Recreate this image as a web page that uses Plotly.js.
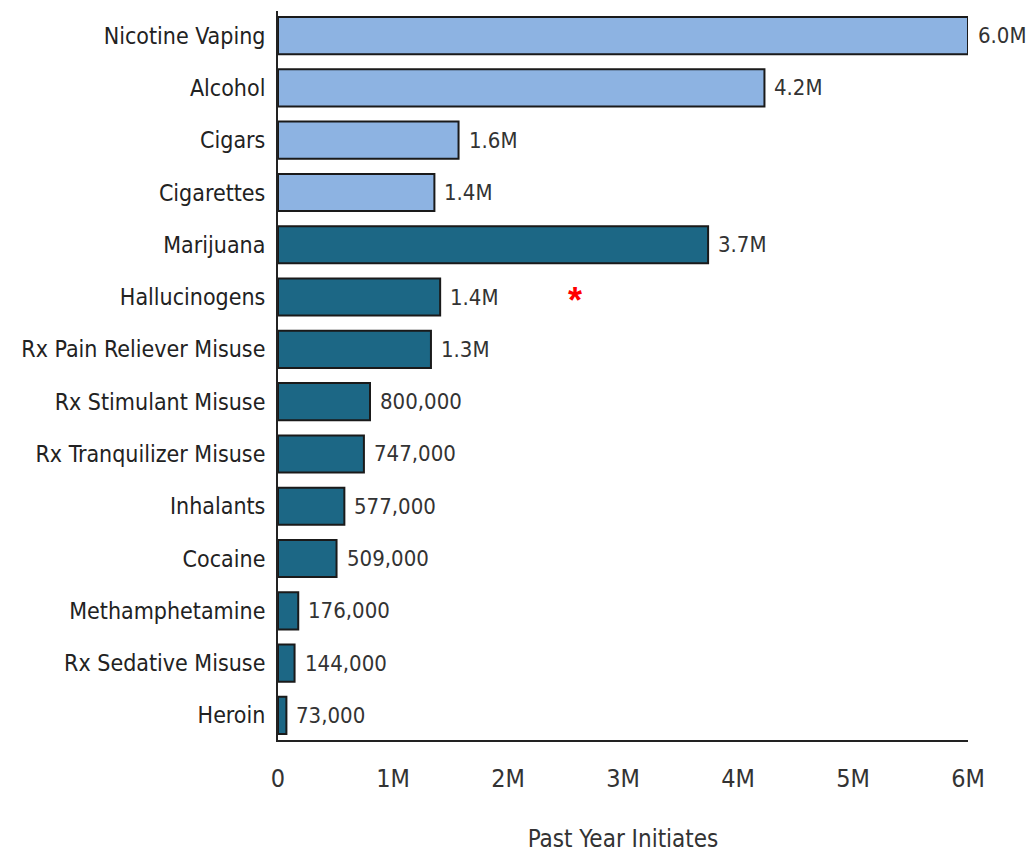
<!DOCTYPE html>
<html>
<head>
<meta charset="utf-8">
<script src="https://cdn.plot.ly/plotly-3.0.1.min.js"></script>
<style>html,body{margin:0;padding:0;background:#fff;}#chart{width:1031px;height:855px;}</style>
</head>
<body>
<div id="chart"></div>
<script>
const categories = ["Nicotine Vaping","Alcohol","Cigars","Cigarettes","Marijuana","Hallucinogens","Rx Pain Reliever Misuse","Rx Stimulant Misuse","Rx Tranquilizer Misuse","Inhalants","Cocaine","Methamphetamine","Rx Sedative Misuse","Heroin"];
const values = [6000000,4230000,1570000,1360000,3740000,1410000,1330000,800000,747000,577000,509000,176000,144000,73000];
const valueLabels = ["6.0M","4.2M","1.6M","1.4M","3.7M","1.4M","1.3M","800,000","747,000","577,000","509,000","176,000","144,000","73,000"];
const groups = ["light","light","light","light","dark","dark","dark","dark","dark","dark","dark","dark","dark","dark"];
const tickVals = [0,1000000,2000000,3000000,4000000,5000000,6000000];
const tickText = ["0","1M","2M","3M","4M","5M","6M"];
const groupColors = {light:"#8DB3E2", dark:"#1C6785"};

const font = "'Liberation Sans Narrow','DejaVu Sans Condensed','Roboto Condensed',sans-serif";

const trace = {
  type: "bar",
  orientation: "h",
  y: categories,
  x: values,
  width: 0.71,
  marker: {color: groups.map(g => groupColors[g]), line: {color: "#1a1a1a", width: 2}},
  hoverinfo: "none"
};

const annotations = categories.map((c, i) => ({
  x: values[i], y: c, xref: "x", yref: "y",
  text: valueLabels[i], showarrow: false, xanchor: "left", yanchor: "middle",
  xshift: 8, font: {family: font, size: 22, color: "#333"}
}));
annotations.push({
  x: 2580000, y: "Hallucinogens", xref: "x", yref: "y", text: "<b>*</b>", showarrow: false,
  xanchor: "center", yanchor: "middle", yshift: -3,
  font: {family: "Liberation Sans, Arial, sans-serif", size: 36, color: "#ff0000"}
});

const layout = {
  width: 1031, height: 855,
  margin: {l: 278, r: 63, t: 11, b: 115},
  paper_bgcolor: "#fff", plot_bgcolor: "#fff",
  showlegend: false,
  font: {family: font, color: "#222"},
  xaxis: {
    range: [0, 6000000], tickvals: tickVals, ticktext: tickText,
    showgrid: false, zeroline: false, showline: true, linecolor: "#222", linewidth: 2,
    ticks: "", ticklabelstandoff: 15, tickfont: {family: font, size: 25, color: "#333"},
    title: {text: "Past Year Initiates", font: {family: font, size: 24, color: "#333"}, standoff: 38}
  },
  yaxis: {
    autorange: false, range: [13.47, -0.47], type: "category",
    showgrid: false, zeroline: false, showline: true, linecolor: "#222", linewidth: 2,
    ticks: "", ticklabelstandoff: 6,
    tickfont: {family: font, size: 23, color: "#222"}
  },
  annotations: annotations
};

Plotly.newPlot("chart", [trace], layout, {staticPlot: true, displayModeBar: false});
</script>
</body>
</html>
